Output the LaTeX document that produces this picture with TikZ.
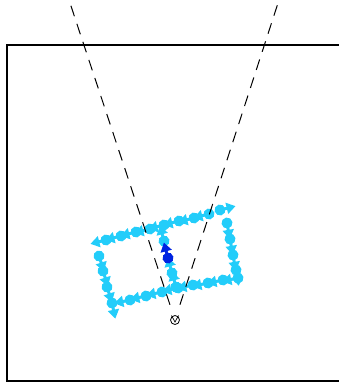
\documentclass[tikz,border=0pt]{standalone}
\usetikzlibrary{arrows.meta,calc}
\definecolor{posecyan}{RGB}{35,205,250}
\definecolor{startblue}{RGB}{0,35,225}

\tikzset{
  pose/.pic={
    \fill (0,0) circle (5.5pt);
    \draw[line width=3pt,-{Triangle[width=11pt,length=9pt]}] (0,0) -- (16,0);
  },
  fov/.style={dash pattern=on 11pt off 8pt, line width=1pt},
}

\begin{document}
\begin{tikzpicture}[x=1pt,y=-1pt]
\useasboundingbox (0,0) rectangle (339,382);
% field border
\draw[line width=1.1pt] (7,45) rectangle (350,381);
% top edge
\pic[posecyan,rotate=194] at (106,240) {pose};
\pic[posecyan,rotate=194] at (121,236) {pose};
\pic[posecyan,rotate=194] at (136,232) {pose};
\pic[posecyan,rotate=194] at (150,229) {pose};
\pic[posecyan,rotate=194] at (164,225) {pose};
\pic[posecyan,rotate=194] at (179,221) {pose};
\pic[posecyan,rotate=194] at (194,218) {pose};
\pic[posecyan,rotate=194] at (209,214) {pose};
\pic[posecyan,rotate=14] at (220,210) {pose};
% right edge
\pic[posecyan,rotate=-80] at (227,223) {pose};
\pic[posecyan,rotate=-80] at (230,239) {pose};
\pic[posecyan,rotate=-80] at (233,255) {pose};
\pic[posecyan,rotate=-80] at (236,270) {pose};
% bottom edge
\pic[posecyan,rotate=192] at (238,278) {pose};
\pic[posecyan,rotate=192] at (223,280) {pose};
\pic[posecyan,rotate=192] at (208,283) {pose};
\pic[posecyan,rotate=192] at (193,285) {pose};
\pic[posecyan,rotate=192] at (178,288) {pose};
\pic[posecyan,rotate=192] at (162,292) {pose};
\pic[posecyan,rotate=192] at (146,296) {pose};
\pic[posecyan,rotate=192] at (130,300) {pose};
% left edge
\pic[posecyan,rotate=-72] at (99,256) {pose};
\pic[posecyan,rotate=-72] at (103,271) {pose};
\pic[posecyan,rotate=-72] at (107,287) {pose};
\pic[posecyan,rotate=-78] at (112,303) {pose};
% middle
\pic[posecyan,rotate=105] at (176,287) {pose};
\pic[posecyan,rotate=105] at (172,273) {pose};
\pic[posecyan,rotate=105] at (164,241) {pose};
\pic[startblue,rotate=105] at (168,258) {pose};
% camera and field of view
\node (cam) [circle, draw, line width=0.8pt, minimum size=9pt, inner sep=0pt] at (175,320) {};
\draw[line width=0.7pt] (171.5,315.5) -- (175,322) -- (178.5,315.5);
\coordinate (fovL) at (69,0);
\coordinate (fovR) at (279,0);
\draw[fov] ($(cam.center)!16pt!(fovL)$) -- (fovL);
\draw[fov] ($(cam.center)!16pt!(fovR)$) -- (fovR);
\end{tikzpicture}
\end{document}
